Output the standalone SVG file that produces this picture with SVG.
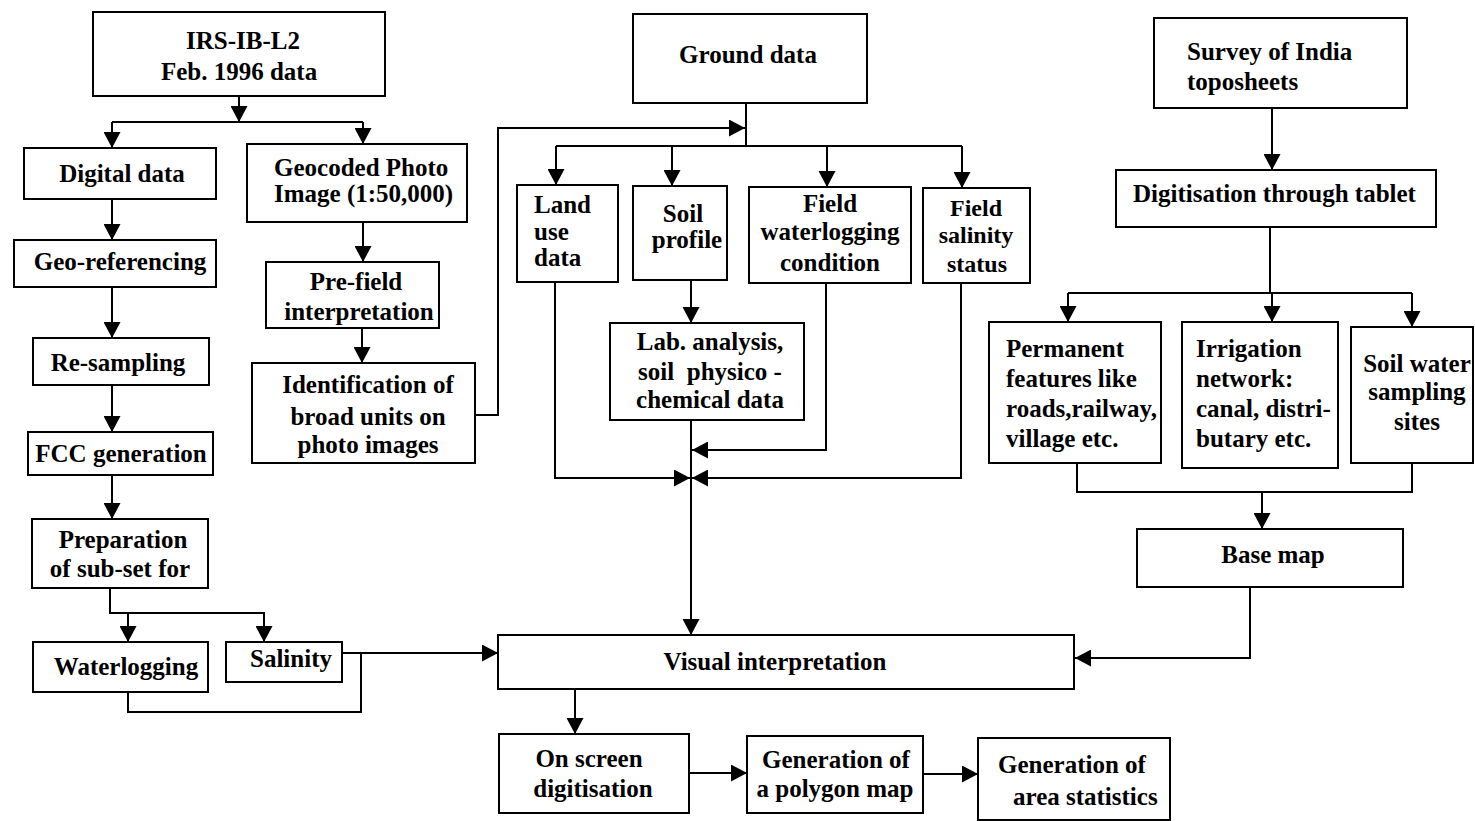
<svg xmlns="http://www.w3.org/2000/svg" width="1475" height="821" viewBox="0 0 1475 821">
<style>
rect{fill:#fff;stroke:#000;stroke-width:2}
text{font-family:"Liberation Serif","Times New Roman",serif;font-weight:bold;font-size:25px;fill:#000}
.m{text-anchor:middle}
.s{font-size:24px}
#connectors path{fill:none;stroke:#000;stroke-width:2}
.a{marker-end:url(#ah)}
</style>
<defs>
<marker id="ah" markerUnits="userSpaceOnUse" markerWidth="17" markerHeight="17" refX="16" refY="8.5" orient="auto">
<path d="M0,0 L16,8.5 L0,17 z" fill="#000"/>
</marker>
</defs>
<rect width="1475" height="821" style="stroke:none"/>
<g id="connectors">
<path class="a" d="M239,96 V122"/>
<path d="M112,122 H363"/>
<path class="a" d="M112,122 V148"/>
<path class="a" d="M363,122 V144"/>
<path class="a" d="M112,199 V240"/>
<path class="a" d="M112,287 V338"/>
<path class="a" d="M112,385 V432"/>
<path class="a" d="M112,475 V519"/>
<path class="a" d="M110,588 V613 H264 V642"/>
<path class="a" d="M128,613 V642"/>
<path d="M128,692 V712 H361 V653"/>
<path class="a" d="M342,653 H498"/>
<path class="a" d="M363,222 V262"/>
<path class="a" d="M362,328 V363"/>
<path class="a" d="M475,415 H498 V128 H745"/>
<path d="M746,103 V146"/>
<path d="M556,146 H962"/>
<path class="a" d="M556,146 V185"/>
<path class="a" d="M672,146 V186"/>
<path class="a" d="M827,146 V187"/>
<path class="a" d="M962,146 V188"/>
<path class="a" d="M691,280 V323"/>
<path class="a" d="M691,420 V635"/>
<path class="a" d="M555,282 V478 H690"/>
<path class="a" d="M826,283 V450 H692"/>
<path class="a" d="M961,283 V478 H692"/>
<path class="a" d="M1272,108 V170"/>
<path d="M1270,227 V293"/>
<path d="M1068,293 H1412"/>
<path class="a" d="M1068,293 V322"/>
<path class="a" d="M1272,293 V322"/>
<path class="a" d="M1412,293 V327"/>
<path d="M1077,463 V492 H1412 V463"/>
<path class="a" d="M1262,492 V529"/>
<path class="a" d="M1250,587 V658 H1075"/>
<path class="a" d="M575,689 V734"/>
<path class="a" d="M689,773 H747"/>
<path class="a" d="M923,774 H978"/>
</g>
<g id="irs"><rect x="93" y="12" width="292" height="84"/><text class="m" x="243" y="49">IRS-IB-L2</text><text class="m" x="239" y="80">Feb. 1996 data</text></g>
<g id="digital"><rect x="24" y="148" width="192" height="51"/><text class="m" x="122" y="182">Digital data</text></g>
<g id="geocoded"><rect x="247" y="144" width="220" height="78"/><text x="274" y="176">Geocoded Photo</text><text x="274" y="202">Image (1:50,000)</text></g>
<g id="georef"><rect x="14" y="240" width="202" height="47"/><text class="m" x="120" y="270">Geo-referencing</text></g>
<g id="prefield"><rect x="266" y="262" width="173" height="66"/><text class="m" x="356" y="290">Pre-field</text><text class="m" x="359" y="320">interpretation</text></g>
<g id="resampling"><rect x="33" y="338" width="176" height="47"/><text class="m" x="118" y="371">Re-sampling</text></g>
<g id="identification"><rect x="252" y="363" width="223" height="100"/><text class="m" x="368" y="393">Identification of</text><text class="m" x="368" y="425">broad units on</text><text class="m" x="368" y="453">photo images</text></g>
<g id="fcc"><rect x="28" y="432" width="185" height="43"/><text class="m" x="121" y="462">FCC generation</text></g>
<g id="preparation"><rect x="32" y="519" width="176" height="69"/><text class="m" x="123" y="548">Preparation</text><text class="m" x="120" y="577">of sub-set for</text></g>
<g id="waterlogging"><rect x="33" y="642" width="175" height="50"/><text class="m" x="126" y="675">Waterlogging</text></g>
<g id="salinity"><rect x="226" y="642" width="116" height="40"/><text class="m" x="291" y="667">Salinity</text></g>
<g id="ground"><rect x="633" y="14" width="234" height="89"/><text class="m" x="748" y="63">Ground data</text></g>
<g id="landuse"><rect x="517" y="185" width="101" height="97"/><text x="534" y="213">Land</text><text x="534" y="240">use</text><text x="534" y="266">data</text></g>
<g id="soilprofile"><rect x="633" y="186" width="94" height="94"/><text class="m" x="683" y="222">Soil</text><text class="m" x="687" y="248">profile</text></g>
<g id="fieldwater"><rect x="749" y="187" width="162" height="96"/><text class="m" x="830" y="212">Field</text><text class="m" x="830" y="240">waterlogging</text><text class="m" x="830" y="271">condition</text></g>
<g id="fieldsalinity"><rect x="923" y="188" width="107" height="95"/><text class="m s" x="976" y="216">Field</text><text class="m s" x="976" y="243">salinity</text><text class="m s" x="977" y="272">status</text></g>
<g id="lab"><rect x="610" y="323" width="194" height="97"/><text class="m" x="710" y="350">Lab. analysis,</text><text class="m" x="710" y="380" xml:space="preserve">soil  physico -</text><text class="m" x="710" y="408">chemical data</text></g>
<g id="visual"><rect x="498" y="635" width="576" height="54"/><text class="m" x="775" y="670">Visual interpretation</text></g>
<g id="onscreen"><rect x="499" y="734" width="190" height="79"/><text class="m" x="589" y="767">On screen</text><text class="m" x="593" y="797">digitisation</text></g>
<g id="polygon"><rect x="747" y="736" width="176" height="77"/><text class="m" x="836" y="768">Generation of</text><text class="m" x="835" y="797">a polygon map</text></g>
<g id="stats"><rect x="978" y="738" width="192" height="82"/><text x="998" y="773">Generation of</text><text x="1013" y="805">area statistics</text></g>
<g id="survey"><rect x="1154" y="18" width="253" height="90"/><text x="1187" y="60">Survey of India</text><text x="1187" y="90">toposheets</text></g>
<g id="digitisation"><rect x="1116" y="170" width="320" height="57"/><text x="1133" y="202">Digitisation through tablet</text></g>
<g id="permanent"><rect x="989" y="322" width="172" height="141"/><text x="1006" y="357">Permanent</text><text x="1006" y="387">features like</text><text x="1006" y="417">roads,railway,</text><text x="1006" y="447">village etc.</text></g>
<g id="irrigation"><rect x="1182" y="322" width="156" height="146"/><text x="1196" y="357">Irrigation</text><text x="1196" y="387">network:</text><text x="1196" y="417">canal, distri-</text><text x="1196" y="447">butary etc.</text></g>
<g id="soilwater"><rect x="1351" y="327" width="122" height="136"/><text class="m" x="1417" y="372">Soil water</text><text class="m" x="1417" y="400">sampling</text><text class="m" x="1417" y="430">sites</text></g>
<g id="basemap"><rect x="1137" y="529" width="266" height="58"/><text class="m" x="1273" y="563">Base map</text></g>
</svg>
